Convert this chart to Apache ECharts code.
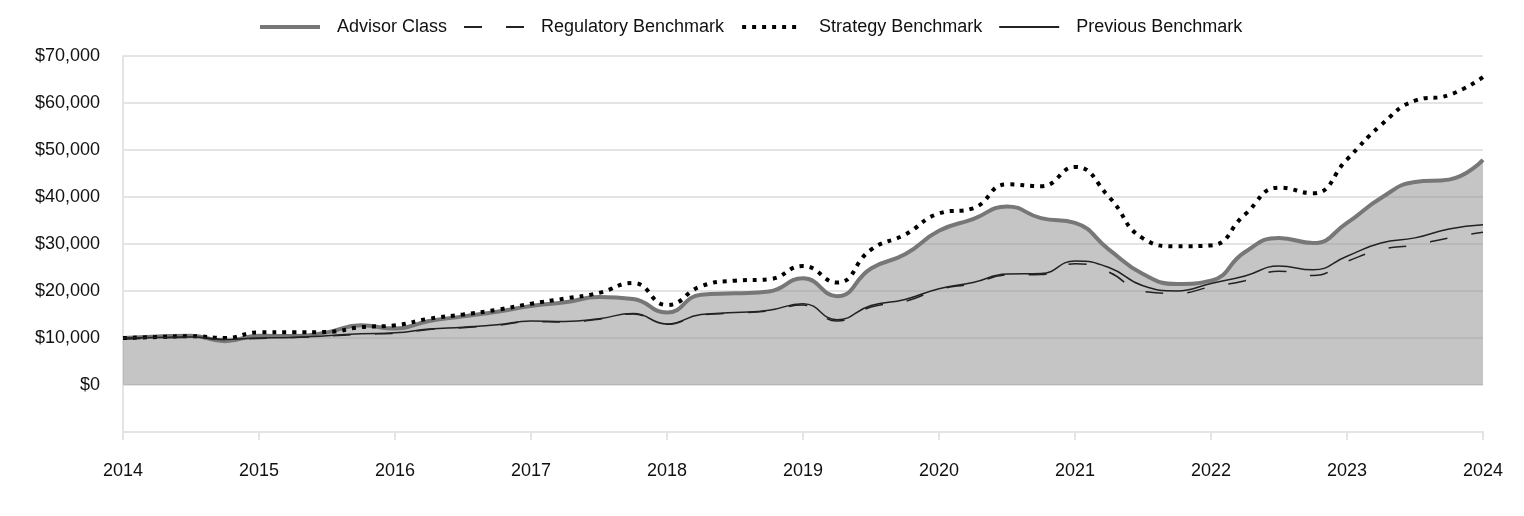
<!DOCTYPE html>
<html>
<head>
<meta charset="utf-8">
<script src="https://cdn.jsdelivr.net/npm/echarts@6/dist/echarts.min.js"></script>
<style>
html,body{margin:0;padding:0;background:#fff;}
#chart{width:1524px;height:516px;}
</style>
</head>
<body>
<div id="chart"></div>
<script>
const periods = [2014.00,2014.25,2014.50,2014.75,2015.00,2015.25,2015.50,2015.75,2016.00,2016.25,2016.50,2016.75,2017.00,2017.25,2017.50,2017.75,2018.00,2018.25,2018.50,2018.75,2019.00,2019.25,2019.50,2019.75,2020.00,2020.25,2020.50,2020.75,2021.00,2021.25,2021.50,2021.75,2022.00,2022.25,2022.50,2022.75,2023.00,2023.25,2023.50,2023.75,2024.00];
const advisorClass = [10000,10300,10500,9300,10500,10400,11200,12700,12000,13600,14600,15600,16800,17600,18700,18300,15400,19200,19500,19900,22700,18900,24800,27800,32800,35300,38000,35500,34500,28800,23600,21500,22200,28300,31300,30200,34500,39800,43200,43700,47900];
const regulatoryBenchmark = [9800,10000,10100,9700,9900,10100,10400,10800,11000,11800,12200,12700,13500,13400,14000,15100,12900,14900,15300,15800,17000,13600,16600,17800,20300,21600,23400,23500,25800,24000,19900,19500,20900,22200,24200,23300,26300,28800,29800,31300,32500];
const strategyBenchmark = [10000,10200,10400,10000,11200,11200,11300,12300,12700,14100,15000,16000,17300,18400,19600,21700,17000,21000,22200,22500,25300,21800,28800,32000,36500,37600,42700,42300,46400,40000,31200,29500,29700,36300,42000,40800,48000,55300,60500,61700,65500];
const previousBenchmark = [10000,10100,10200,9700,10000,10100,10500,10900,11100,11900,12300,12800,13600,13500,14100,15200,13000,15000,15400,15900,17300,13900,16900,18200,20500,21800,23600,23700,26400,25000,21100,20000,21600,23200,25300,24500,27400,30200,31300,33200,34100];
const yearTicks = [2014,2015,2016,2017,2018,2019,2020,2021,2022,2023,2024];
const seriesNames = ['Advisor Class','Regulatory Benchmark','Strategy Benchmark','Previous Benchmark'];

function pairs(vals){ return periods.map((p,i)=>[p, vals[i]]); }

const font = '"Liberation Sans", Arial, sans-serif';
const chart = echarts.init(document.getElementById('chart'), null, {renderer:'canvas'});
chart.setOption({
  animation: false,
  backgroundColor: '#ffffff',
  legend: {
    top: 13,
    left: 253,
    itemWidth: 60,
    itemHeight: 14,
    itemGap: 16,
    itemStyle: {color: 'rgba(0,0,0,0)', borderColor: 'rgba(0,0,0,0)', borderWidth: 0},
    textStyle: {fontFamily: font, fontSize: 18, color: '#111', padding: [0,0,0,12]},
    data: [
      {name: seriesNames[0], lineStyle: {width: 4}},
      {name: seriesNames[1], lineStyle: {width: 2}},
      {name: seriesNames[2], lineStyle: {width: 4}},
      {name: seriesNames[3], lineStyle: {width: 2}}
    ]
  },
  grid: {left: 123, right: 41, top: 56, bottom: 84, containLabel: false},
  xAxis: {
    type: 'value',
    min: 2014, max: 2024, interval: 1,
    axisLine: {show: true, onZero: false, lineStyle: {color: '#e4e4e4', width: 2}},
    axisTick: {show: true, length: 8, lineStyle: {color: '#e4e4e4', width: 2}},
    splitLine: {show: false},
    axisLabel: {
      margin: 30, fontFamily: font, fontSize: 18, color: '#111',
      formatter: function(v){ return yearTicks.indexOf(Math.round(v)) >= 0 ? String(Math.round(v)) : ''; }
    }
  },
  yAxis: {
    type: 'value',
    min: -10000, max: 70000, interval: 10000,
    axisLine: {show: true, lineStyle: {color: '#e4e4e4', width: 2}},
    axisTick: {show: false},
    splitLine: {show: true, lineStyle: {color: '#e4e4e4', width: 2}},
    axisLabel: {
      margin: 23, fontFamily: font, fontSize: 18, color: '#111',
      formatter: function(v){ return v < 0 ? '' : '$' + v.toLocaleString('en-US'); }
    }
  },
  series: [
    {
      name: seriesNames[0], type: 'line', smooth: 0.5, symbol: 'none', z: 2,
      data: pairs(advisorClass),
      lineStyle: {color: '#777777', width: 4},
      itemStyle: {color: '#777777'},
      areaStyle: {color: '#8c8c8c', opacity: 0.5, origin: 'auto'}
    },
    {
      name: seriesNames[1], type: 'line', smooth: 0.5, symbol: 'none', z: 3,
      data: pairs(regulatoryBenchmark),
      lineStyle: {color: '#222222', width: 1.5, type: [18, 24]},
      itemStyle: {color: '#222222'}
    },
    {
      name: seriesNames[2], type: 'line', smooth: 0.5, symbol: 'none', z: 4,
      data: pairs(strategyBenchmark),
      lineStyle: {color: '#000000', width: 4, type: [4, 6], cap: 'butt'},
      itemStyle: {color: '#000000'}
    },
    {
      name: seriesNames[3], type: 'line', smooth: 0.5, symbol: 'none', z: 5,
      data: pairs(previousBenchmark),
      lineStyle: {color: '#222222', width: 1.5},
      itemStyle: {color: '#222222'}
    }
  ]
});
</script>
</body>
</html>
